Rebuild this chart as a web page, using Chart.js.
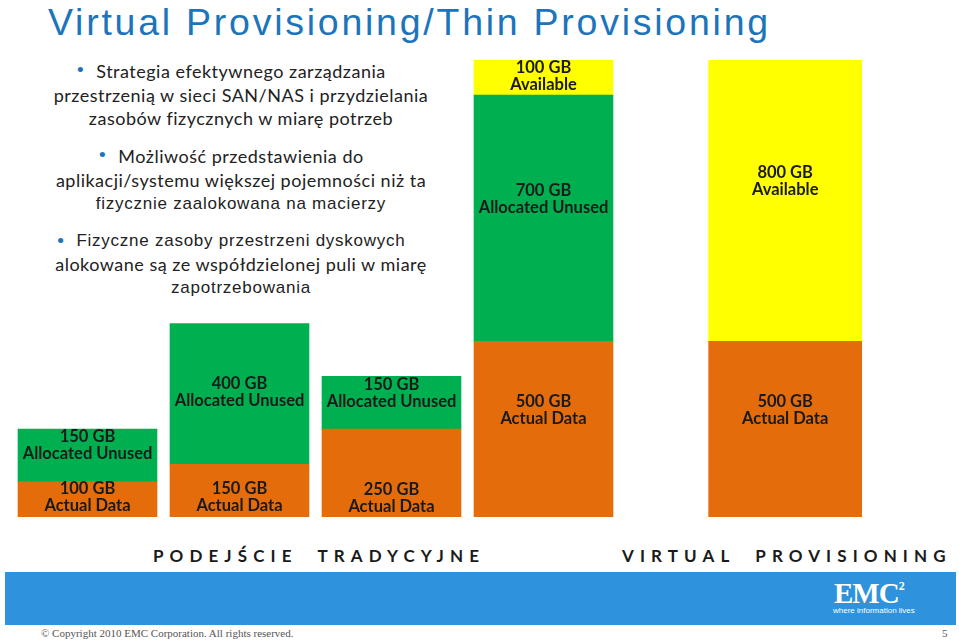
<!DOCTYPE html>
<html>
<head>
<meta charset="utf-8">
<script src="https://cdn.jsdelivr.net/npm/chart.js@4"></script>
<style>
  body { margin: 0; width: 959px; height: 642px; background: #fff; position: relative; overflow: hidden; }
  #title { position: absolute; left: 48px; top: 0; font: 37.5px "Liberation Sans", Arial, sans-serif; letter-spacing: 2.75px; color: #1c74bb; line-height: 44px; white-space: nowrap; }
  .para { position: absolute; left: 0; width: 482px; text-align: center; color: #222; white-space: nowrap; }
  .para div { line-height: 23.5px; }
  .cal { font: 18px Lato, sans-serif; letter-spacing: 0.5px; }
  .ari { font: 17px "Liberation Sans", Arial, sans-serif; letter-spacing: 0.75px; }
  .p1 { top: 60px; }
  .p2 { top: 145px; }
  .p3 { top: 229px; }
  .first { position: relative; }
  .dot { position: absolute; left: -20px; top: 0; color: #1c74bb; font: 14px Lato, sans-serif; }
  #chartBox { position: absolute; left: 0; top: 60px; width: 959px; height: 457px; }
  .group { position: absolute; top: 545px; font: bold 17px Lato, sans-serif; letter-spacing: 6.1px; color: #1a1a1a; white-space: nowrap; }
  #band { position: absolute; left: 5px; top: 572px; width: 951px; height: 53px; background: #2e93dc; }
  #logo { position: absolute; left: 834px; top: 577px; color: #fff; font: bold 29px "Liberation Serif", serif; letter-spacing: -1px; }
  #logo sup { font-size: 12px; vertical-align: 13px; }
  #tag { position: absolute; left: 833px; top: 606px; color: #fff; font: 8px "Liberation Sans", sans-serif; }
  #copy { position: absolute; left: 41px; top: 627px; font: 11px "Liberation Serif", serif; color: #555; }
  #page { position: absolute; left: 942px; top: 627px; font: 11px "Liberation Serif", serif; color: #555; }
</style>
</head>
<body>
<div id="title">Virtual Provisioning/Thin Provisioning</div>

<div class="para p1 cal">
  <div><span class="first"><span class="dot">&#8226;</span>Strategia efektywnego zarządzania</span></div>
  <div>przestrzenią w sieci SAN/NAS i przydzielania</div>
  <div>zasobów fizycznych w miarę potrzeb</div>
</div>
<div class="para p2">
  <div class="cal"><span class="first"><span class="dot">&#8226;</span>Możliwość przedstawienia do</span></div>
  <div class="cal">aplikacji/systemu większej pojemności niż ta</div>
  <div class="ari">fizycznie zaalokowana na macierzy</div>
</div>
<div class="para p3">
  <div class="ari"><span class="first"><span class="dot">&#8226;</span>Fizyczne zasoby przestrzeni dyskowych</span></div>
  <div class="cal">alokowane są ze współdzielonej puli w miarę</div>
  <div class="ari">zapotrzebowania</div>
</div>

<div id="chartBox"><canvas id="chart" width="959" height="457"></canvas></div>

<div class="group" style="left:153px">PODEJŚCIE&nbsp; TRADYCYJNE</div>
<div class="group" style="left:622px">VIRTUAL&nbsp; PROVISIONING</div>

<div id="band"></div>
<div id="logo">EMC<sup>2</sup></div>
<div id="tag">where information lives</div>
<div id="copy">© Copyright 2010 EMC Corporation. All rights reserved.</div>
<div id="page">5</div>

<script>
// storage per bar, GB
const bars = ["Trad 1", "Trad 2", "Trad 3", "Virtual pool", "Virtual host"];
const actualData = [100, 150, 250, 500, 500];
const allocatedUnused = [150, 400, 150, 700, null];
const available = [null, null, null, 100, 800];

const seriesNames = ["Actual Data", "Allocated Unused", "Available"];
const seriesColors = ["#e46c0a", "#00b050", "#ffff00"];

// layout: where each bar sits on the x axis and how wide it is
const slots = [0, 1, 2, 3, 4.59];
const wideBar = 4; // last bar is drawn wider
// label nudges (px) so the captions sit like in the slide
const nudges = [
  [-2, 7, 25, -19, -19],
  [-10, -2, -10, -19, 0],
  [0, 0, 0, -1, -19]
];

const series = [actualData, allocatedUnused, available];
const datasets = [];
series.forEach((values, s) => {
  [false, true].forEach(wide => {
    datasets.push({
      label: seriesNames[s],
      data: values.map((v, i) => ((i === wideBar) === wide ? v : null)),
      backgroundColor: seriesColors[s],
      borderWidth: 0,
      barThickness: wide ? 153 : 139,
      grouped: false,
      nudge: nudges[s]
    });
  });
});

const barLabels = {
  id: "barLabels",
  afterDatasetsDraw(chart) {
    const ctx = chart.ctx;
    ctx.save();
    ctx.fillStyle = "#1a1a1a";
    ctx.font = "bold 16.5px Lato, sans-serif";
    ctx.textAlign = "center";
    ctx.textBaseline = "middle";
    chart.data.datasets.forEach((ds, d) => {
      chart.getDatasetMeta(d).data.forEach((el, i) => {
        const v = ds.data[i];
        if (v == null) return;
        const cy = (el.y + el.base) / 2 + ds.nudge[i];
        ctx.fillText(v + " GB", el.x, cy - 8.5);
        ctx.fillText(ds.label, el.x, cy + 8.5);
      });
    });
    ctx.restore();
  }
};

new Chart(document.getElementById("chart"), {
  type: "bar",
  data: { labels: slots, datasets: datasets },
  options: {
    responsive: false,
    animation: false,
    layout: { padding: 0 },
    plugins: { legend: { display: false }, tooltip: { enabled: false } },
    scales: {
      x: { type: "linear", min: -0.5757, max: 5.7336, offset: false, stacked: true, display: false },
      y: { min: 0, max: 1300, stacked: true, display: false }
    }
  },
  plugins: [barLabels]
});
</script>
</body>
</html>
